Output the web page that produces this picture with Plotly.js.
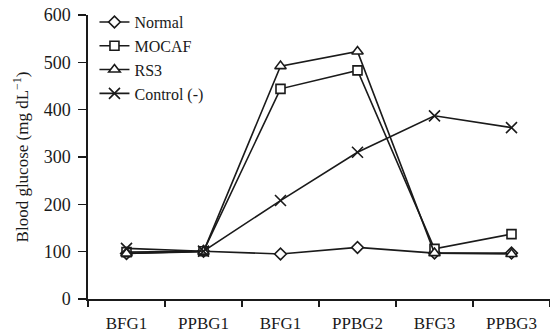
<!DOCTYPE html>
<html>
<head>
<meta charset="utf-8">
<script src="https://cdn.plot.ly/plotly-3.0.1.min.js"></script>
<style>html,body{margin:0;padding:0;background:#fff;}</style>
</head>
<body>
<div id="chart" style="width:550px;height:335px;"></div>
<script>
const stages = ["BFG1", "PPBG1", "BFG1", "PPBG2", "BFG3", "PPBG3"];
const normal = [96, 101, 95, 109, 97, 97];
const mocaf = [99, 101, 444, 483, 106, 137];
const rs3 = [96, 100, 492, 523, 97, 95];
const control = [107, 101, 208, 310, 387, 362];

const seriesNames = ["Normal", "MOCAF", "RS3", "Control (-)"];
const seriesValues = [normal, mocaf, rs3, control];
const symbols = ["diamond", "square", "triangle-up", "x-thin-open"];
const sizes = [9, 9, 10, 11];

const xIdx = stages.map((_, i) => i);
const ink = "#1a1a1a";

const traces = seriesValues.map((vals, k) => ({
  type: "scatter",
  mode: "lines+markers",
  name: seriesNames[k],
  x: xIdx,
  y: vals,
  line: {color: ink, width: 1.6},
  marker: {
    symbol: symbols[k],
    size: sizes[k],
    color: symbols[k] === "x-thin-open" ? ink : "#fff",
    line: {color: ink, width: 1.6}
  }
}));

const layout = {
  width: 550, height: 335,
  margin: {l: 88, r: 0, t: 15, b: 36},
  paper_bgcolor: "#fff", plot_bgcolor: "#fff",
  font: {family: "Liberation Serif, Times New Roman, serif", size: 17, color: ink},
  showlegend: true,
  legend: {x: 0.014, y: 1.035, xanchor: "left", yanchor: "top", bgcolor: "rgba(0,0,0,0)",
           font: {size: 16}, tracegroupgap: 0},
  xaxis: {
    range: [-0.5, 5.5],
    tickvals: xIdx, ticktext: stages,
    ticks: "", showgrid: false, zeroline: false,
    showline: true, linecolor: ink, linewidth: 1.6,
    minor: {tickvals: [-0.5, 0.5, 1.5, 2.5, 3.5, 4.5, 5.5], ticks: "outside", ticklen: 6, tickwidth: 1.6, tickcolor: ink, showgrid: false},
    tickfont: {size: 17}, ticklabelstandoff: 8, fixedrange: true
  },
  yaxis: {
    range: [0, 600], dtick: 100,
    ticks: "outside", ticklen: 8, tickwidth: 1.6, tickcolor: ink,
    showgrid: false, zeroline: false,
    showline: true, linecolor: ink, linewidth: 1.6,
    tickfont: {size: 18}, ticklabelstandoff: 4,
    title: {text: "Blood glucose (mg dL<sup>−1</sup>)", font: {size: 17}, standoff: 11},
    fixedrange: true
  }
};

Plotly.newPlot("chart", traces, layout, {displayModeBar: false, staticPlot: true});
</script>
</body>
</html>
